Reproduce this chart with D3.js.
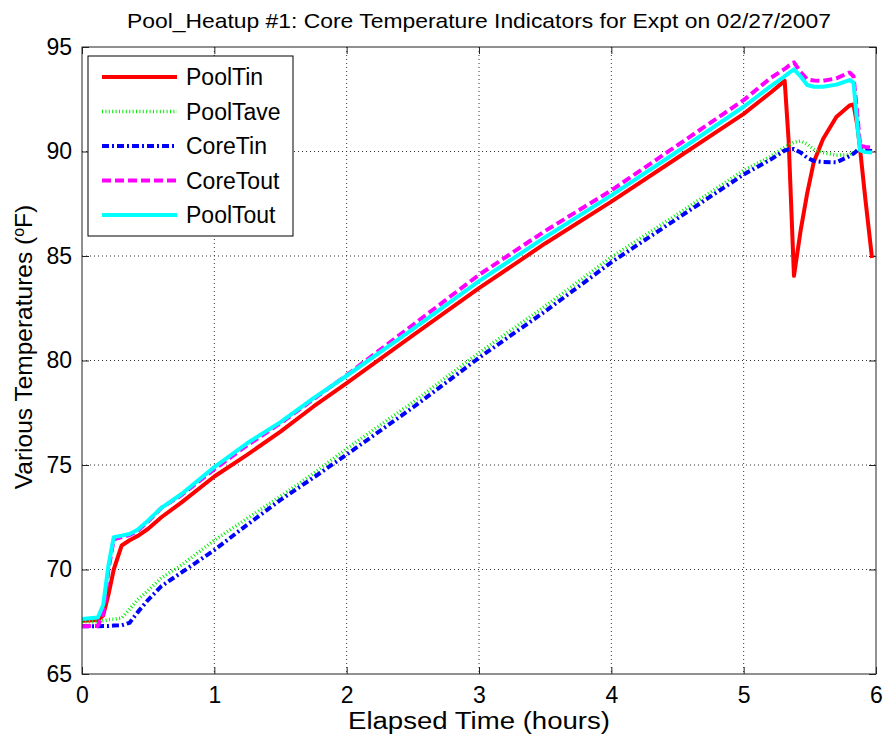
<!DOCTYPE html>
<html>
<head>
<meta charset="utf-8">
<style>
  body { margin: 0; background: #fff; }
  svg { display: block; font-family: "Liberation Sans", Arial, sans-serif; }
</style>
</head>
<body>
<svg width="884" height="740"></svg>
<script src="https://d3js.org/d3.v7.min.js"></script>
<script>
// elapsed time (hours) at which the curves were read
var hours = [0, 0.12, 0.16, 0.20, 0.24, 0.30, 0.36, 0.42, 0.50, 0.60, 0.75,
  1.00, 1.25, 1.50, 1.75, 2.00, 2.50, 3.00, 3.50, 4.00, 4.50, 5.00, 5.20,
  5.31, 5.34, 5.38, 5.43, 5.48, 5.53, 5.60, 5.70, 5.80, 5.83, 5.86, 5.88, 5.92, 5.97];

var poolTin = [67.55, 67.58, 67.8, 68.8, 70.0, 71.15, 71.4, 71.6, 71.95, 72.5, 73.2,
  74.45, 75.5, 76.6, 77.8, 78.92, 81.2, 83.46, 85.6, 87.6, 89.7, 91.8, 92.8,
  93.38, 90.5, 84.05, 86.2, 88.0, 89.5, 90.6, 91.65, 92.2, 92.25, 91.2, 90.1, 87.7, 84.9];

var poolTave = [67.5, 67.5, 67.55, 67.6, 67.62, 67.68, 68.1, 68.55, 69.0, 69.6, 70.2,
  71.4, 72.45, 73.5, 74.6, 75.78, 78.0, 80.37, 82.6, 84.95, 87.0, 89.1, 89.75,
  90.2, 90.3, 90.45, 90.5, 90.35, 90.1, 89.95, 89.82, 89.85, 89.95, 90.1, 90.15, 90.18, 90.2];

var coreTin = [67.28, 67.28, 67.3, 67.3, 67.32, 67.33, 67.45, 67.95, 68.55, 69.2, 69.85,
  70.93, 72.15, 73.33, 74.4, 75.5, 77.75, 80.13, 82.35, 84.7, 86.8, 88.9, 89.6,
  90.05, 90.1, 90.12, 89.95, 89.7, 89.55, 89.5, 89.48, 89.78, 89.9, 90.05, 90.1, 90.05, 90.03];

var coreTout = [67.28, 67.3, 67.9, 70.0, 71.45, 71.55, 71.65, 71.85, 72.3, 72.95, 73.55,
  74.8, 75.95, 77.0, 78.15, 79.3, 81.7, 84.1, 86.2, 88.14, 90.3, 92.46, 93.5,
  93.95, 94.1, 94.26, 93.8, 93.45, 93.4, 93.38, 93.5, 93.78, 93.6, 91.7, 90.27, 90.22, 90.18];

var poolTout = [67.63, 67.7, 68.3, 70.2, 71.55, 71.62, 71.7, 71.9, 72.35, 72.95, 73.6,
  74.9, 76.05, 77.05, 78.2, 79.27, 81.5, 83.8, 85.9, 87.9, 90.0, 92.14, 93.1,
  93.6, 93.75, 93.93, 93.6, 93.18, 93.1, 93.1, 93.2, 93.42, 93.3, 91.2, 90.05, 89.97, 89.95];

var xTicks = [0, 1, 2, 3, 4, 5, 6];
var yTicks = [65, 70, 75, 80, 85, 90, 95];

var series = [
  { name: "PoolTin",  values: poolTin,  color: "#ff0000", width: 4,   dash: null },
  { name: "PoolTave", values: poolTave, color: "#00ee00", width: 3.5, dash: "1,2.4" },
  { name: "CoreTin",  values: coreTin,  color: "#0000ff", width: 4,   dash: "7,3,2,3" },
  { name: "CoreTout", values: coreTout, color: "#ff00ff", width: 4,   dash: "9,4" },
  { name: "PoolTout", values: poolTout, color: "#00ffff", width: 4,   dash: null }
];

var svg = d3.select("svg"),
    margin = { top: 47, right: 8, bottom: 66, left: 82 },
    width = +svg.attr("width") - margin.left - margin.right,
    height = +svg.attr("height") - margin.top - margin.bottom,
    g = svg.append("g").attr("transform", "translate(" + margin.left + "," + margin.top + ")");

var x = d3.scaleLinear().domain([0, 6]).range([0, width]);
var y = d3.scaleLinear().domain([65, 95]).range([height, 0]);

// dotted grid
g.append("g").selectAll("line").data(xTicks.slice(1, -1)).join("line")
  .attr("x1", d => x(d)).attr("x2", d => x(d)).attr("y1", 0).attr("y2", height)
  .attr("stroke", "#333").attr("stroke-width", 1).attr("stroke-dasharray", "1,3");
g.append("g").selectAll("line").data(yTicks.slice(1, -1)).join("line")
  .attr("y1", d => y(d)).attr("y2", d => y(d)).attr("x1", 0).attr("x2", width)
  .attr("stroke", "#333").attr("stroke-width", 1).attr("stroke-dasharray", "1,3");

// axes (ticks inward on all four sides)
function styleAxis(sel) {
  sel.select(".domain").remove();
  sel.selectAll(".tick line").attr("stroke", "#222");
  sel.selectAll("text").attr("fill", "#000").style("font-size", "23px");
}
g.append("g").attr("transform", "translate(0," + height + ")")
  .call(d3.axisBottom(x).tickValues(xTicks).tickFormat(d3.format("d")).tickSizeInner(-7).tickPadding(13))
  .call(styleAxis);
g.append("g")
  .call(d3.axisTop(x).tickValues(xTicks).tickFormat("").tickSizeInner(-7))
  .call(styleAxis);
g.append("g")
  .call(d3.axisLeft(y).tickValues(yTicks).tickFormat(d3.format("d")).tickSizeInner(-7).tickPadding(10))
  .call(styleAxis);
g.append("g").attr("transform", "translate(" + width + ",0)")
  .call(d3.axisRight(y).tickValues(yTicks).tickFormat("").tickSizeInner(-7))
  .call(styleAxis);

var line = d3.line()
  .x(function(d, i) { return x(hours[i]); })
  .y(function(d) { return y(d); });

g.append("g").selectAll("path").data(series).join("path")
  .attr("fill", "none")
  .attr("stroke", d => d.color)
  .attr("stroke-width", d => d.width)
  .attr("stroke-dasharray", d => d.dash)
  .attr("stroke-linejoin", "round")
  .attr("d", d => line(d.values));

// box
g.append("rect").attr("width", width).attr("height", height)
  .attr("fill", "none").attr("stroke", "#222").attr("stroke-width", 1);

// legend
var legend = g.append("g").attr("transform", "translate(6,9)");
legend.append("rect").attr("width", 205).attr("height", 180)
  .attr("fill", "#fff").attr("stroke", "#000").attr("stroke-width", 1);
var item = legend.selectAll(".item").data(series).join("g")
  .attr("transform", (d, i) => "translate(0," + (21 + i * 34.5) + ")");
item.append("line").attr("x1", 14).attr("x2", 89)
  .attr("stroke", d => d.color).attr("stroke-width", d => d.width)
  .attr("stroke-dasharray", d => d.dash);
item.append("text").attr("x", 98).attr("dy", "0.35em")
  .style("font-size", "23px").text(d => d.name);

// title and axis labels
svg.append("text").attr("x", margin.left + width / 2).attr("y", 28)
  .attr("text-anchor", "middle").style("font-size", "21px")
  .attr("textLength", 704).attr("lengthAdjust", "spacingAndGlyphs")
  .text("Pool_Heatup #1: Core Temperature Indicators for Expt on 02/27/2007");
svg.append("text").attr("x", margin.left + width / 2).attr("y", 729)
  .attr("text-anchor", "middle").style("font-size", "23px")
  .attr("textLength", 262).attr("lengthAdjust", "spacingAndGlyphs")
  .text("Elapsed Time (hours)");
var yl = svg.append("text")
  .attr("transform", "translate(32,347) rotate(-90)")
  .attr("text-anchor", "middle").style("font-size", "24.5px");
yl.append("tspan").text("Various Temperatures (");
yl.append("tspan").attr("baseline-shift", "super").style("font-size", "16px").text("o");
yl.append("tspan").text("F)");
</script>
</body>
</html>
